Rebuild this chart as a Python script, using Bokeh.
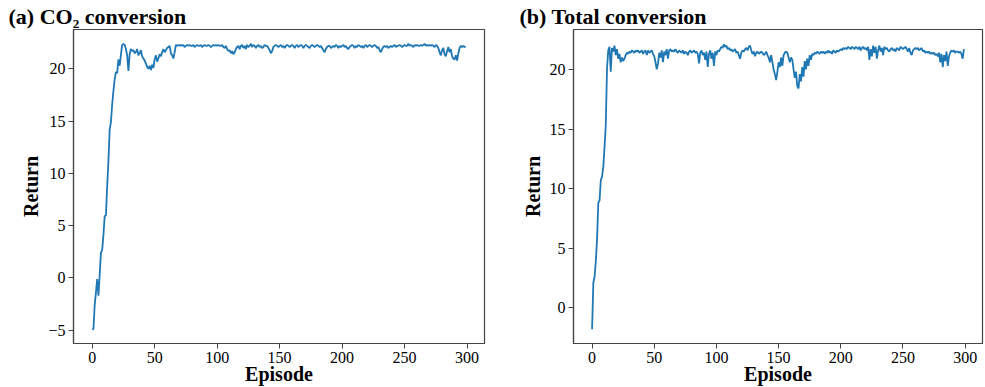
from bokeh.plotting import figure
from bokeh.layouts import row
from bokeh.models import Range1d, FixedTicker
from bokeh.embed import file_html
from bokeh.resources import INLINE

episodes = list(range(300))

co2_return = [
    -4.9, -4.9, -2.6, -1.4, -0.1, -1.7, 0.3, 2.4, 2.7, 4.1,
    5.9, 6.0, 8.8, 11.2, 14.2, 14.9, 16.6, 17.9, 19.0, 19.7,
    19.6, 20.9, 20.3, 21.4, 22.3, 22.4, 22.3, 21.9, 21.3, 19.8,
    21.4, 21.9, 21.7, 21.8, 21.5, 21.6, 21.9, 21.3, 21.5, 21.8,
    21.2, 21.0, 20.8, 20.5, 20.2, 20.0, 20.3, 19.9, 20.4, 20.1,
    20.9, 21.3, 20.7, 21.0, 21.4, 21.2, 21.6, 21.9, 21.6, 21.8,
    22.0, 22.1, 22.2, 21.5, 21.3, 21.0, 21.6, 22.3, 22.2, 22.3,
    22.2, 22.3, 22.2, 22.3, 22.1, 22.2, 22.3, 22.2, 22.3, 22.2,
    22.2, 22.3, 22.1, 22.2, 22.3, 22.2, 22.2, 22.3, 22.1, 22.2,
    22.3, 22.2, 22.2, 22.3, 22.2, 22.1, 22.2, 22.3, 22.2, 22.3,
    22.2, 22.3, 22.2, 22.2, 22.3, 22.1, 22.0, 22.2, 21.9, 21.7,
    21.8, 21.5, 21.7, 21.4, 21.6, 21.9, 22.1, 22.2, 21.9, 22.2,
    22.3, 22.0, 22.2, 21.9, 22.3, 22.1, 22.2, 22.4, 22.1, 22.3,
    22.2, 22.0, 22.2, 22.3, 22.1, 22.2, 22.0, 22.1, 22.3, 22.2,
    22.2, 22.0, 21.8, 21.5, 21.7, 22.1, 22.2, 22.3, 22.2, 22.1,
    22.2, 22.3, 22.1, 22.2, 22.0, 22.2, 22.3, 22.2, 22.1, 22.2,
    22.3, 22.2, 22.0, 22.2, 22.3, 22.1, 22.2, 22.3, 22.2, 22.0,
    22.2, 22.3, 22.2, 22.1, 22.0, 22.2, 22.3, 22.2, 22.1, 22.2,
    22.3, 22.2, 22.1, 22.2, 22.0, 21.8, 21.6, 21.9, 22.1, 22.2,
    22.2, 22.0, 22.1, 22.2, 22.1, 22.3, 22.2, 22.0, 22.2, 22.1,
    22.2, 22.3, 22.1, 22.2, 22.0, 21.9, 22.1, 22.2, 22.3, 22.2,
    22.0, 22.2, 22.1, 22.3, 22.2, 22.1, 22.2, 22.0, 22.2, 22.3,
    22.1, 22.2, 22.3, 22.2, 22.1, 22.2, 22.3, 22.2, 22.0, 22.1,
    21.8, 21.6, 21.9, 22.1, 22.2, 22.1, 22.2, 22.0, 22.1, 22.2,
    22.1, 22.2, 22.3, 22.1, 22.2, 22.2, 22.3, 22.2, 22.1, 22.2,
    22.3, 22.2, 22.2, 22.4, 22.2, 22.3, 22.2, 22.1, 22.3, 22.2,
    22.3, 22.2, 22.2, 22.3, 22.2, 22.3, 22.4, 22.2, 22.3, 22.2,
    22.3, 22.2, 22.3, 22.2, 22.1, 22.3, 22.2, 22.0, 21.6, 21.3,
    21.8, 22.0, 21.4, 21.2, 21.7, 22.1, 21.6, 21.9, 21.2, 21.0,
    20.9, 21.3, 20.8, 21.5, 22.0, 22.2, 22.1, 22.2, 22.1, 22.1,
]

total_return = [
    -1.8, 2.1, 2.6, 3.9, 5.8, 8.8, 9.0, 10.7, 11.0, 11.8,
    13.5, 15.3, 20.1, 21.6, 21.9, 19.8, 21.8, 21.5, 22.0, 21.2,
    21.7, 20.9, 21.3, 20.6, 21.0, 20.7, 20.9, 21.2, 21.4, 21.3,
    21.5, 21.4, 21.6, 21.5, 21.4, 21.6, 21.5, 21.6, 21.4, 21.5,
    21.6, 21.3, 21.5, 21.6, 21.2, 21.6, 21.4, 21.5, 21.6, 21.3,
    21.1, 20.6, 20.0, 20.5, 21.4, 21.0, 21.6, 20.6, 21.5, 21.2,
    21.7, 20.9, 21.6, 21.7, 21.5, 21.6, 21.5, 21.7, 21.5, 21.4,
    21.6, 21.5, 21.4, 21.6, 21.3, 21.5, 21.4, 21.2, 21.5, 21.6,
    21.4, 21.5, 21.6, 21.4, 21.5, 21.3, 20.5, 21.4, 21.6, 21.2,
    21.4, 20.8, 21.5, 20.2, 21.3, 21.6, 20.9, 21.4, 20.3, 21.5,
    21.2, 21.6, 21.5, 21.7, 21.9, 21.8, 22.1, 21.9, 22.0, 21.7,
    21.8, 21.6, 21.7, 21.5, 21.6, 21.7, 21.4, 21.5, 21.2, 20.9,
    21.4, 21.6, 21.5, 21.7, 21.8, 21.6, 21.9, 22.0, 21.6, 21.3,
    21.5, 21.1, 21.4, 21.5, 21.3, 21.4, 21.5, 21.4, 21.2, 21.3,
    21.5, 21.2, 21.0, 20.6, 21.2, 20.6, 20.0, 19.6, 19.1, 19.8,
    20.6, 20.2, 21.0, 20.3, 21.2, 21.4, 21.5, 21.4, 21.0, 20.6,
    21.0, 20.8, 20.0, 19.3, 19.8, 18.6, 18.4, 19.6, 19.0, 20.2,
    19.4, 20.7, 20.0, 20.9, 20.3, 21.2, 20.8, 21.3, 21.2, 21.4,
    21.3, 21.5, 21.4, 21.3, 21.5, 21.4, 21.5, 21.3, 21.5, 21.4,
    21.6, 21.4, 21.5, 21.3, 21.6, 21.5, 21.4, 21.6, 21.5, 21.6,
    21.7, 21.6, 21.8, 21.7, 21.8, 21.7, 21.9, 21.8, 21.7, 21.9,
    21.8, 21.7, 21.9, 21.8, 21.7, 21.9, 21.6, 21.8, 21.9, 21.7,
    21.8, 21.6, 21.9, 20.8, 21.7, 21.1, 22.0, 21.4, 21.9, 20.9,
    21.6, 22.0, 21.5, 21.8, 21.2, 21.9, 21.7, 21.8, 21.6, 21.5,
    21.7, 21.8, 21.6, 21.7, 21.5, 21.8, 21.7, 21.6, 21.9, 21.8,
    21.7, 21.8, 21.9, 21.7, 21.5, 21.8, 21.4, 21.2, 21.6, 21.7,
    21.8, 21.7, 21.8, 21.6, 21.7, 21.8, 21.5, 21.6, 21.4, 21.5,
    21.4, 21.5, 21.3, 21.4, 21.3, 21.4, 21.2, 21.3, 21.1, 21.4,
    20.6, 21.3, 20.2, 21.2, 20.7, 21.5, 20.3, 21.1, 21.4, 21.6,
    21.5, 21.6, 21.4, 21.5, 21.5, 21.4, 21.5, 21.3, 20.9, 21.7,
]

x_ticks = [0, 50, 100, 150, 200, 250, 300]
y_ticks_a = [-5, 0, 5, 10, 15, 20]
y_ticks_b = [0, 5, 10, 15, 20]

SERIF = "Liberation Serif"
LINE = "#1f77b4"
FRAME = "#444444"


def make(title, ys, yticks, ymin, ymax, width, border_left, border_right, title_offset):
    p = figure(width=width, height=387, output_backend="svg", toolbar_location=None,
               x_range=Range1d(-14.95, 313.95), y_range=Range1d(ymin, ymax),
               min_border_left=border_left, min_border_right=border_right,
               min_border_top=9, min_border_bottom=0)
    p.title.text = title
    p.title.text_font = SERIF
    p.title.text_font_size = "22px"
    p.title.text_font_style = "bold"
    p.title.text_color = "black"
    p.title.align = "left"
    p.title.offset = title_offset
    p.title.standoff = 2
    p.line(episodes, ys, line_color=LINE, line_width=1.8)
    p.grid.visible = False
    p.outline_line_color = FRAME
    p.outline_line_width = 1.2
    p.background_fill_color = "white"
    p.border_fill_color = "white"
    for ax in (p.xaxis[0], p.yaxis[0]):
        ax.axis_line_color = FRAME
        ax.axis_line_width = 1.2
        ax.major_tick_line_color = FRAME
        ax.major_tick_out = 5
        ax.major_tick_in = 0
        ax.minor_tick_line_color = None
        ax.major_label_text_font = SERIF
        ax.major_label_text_font_size = "16px"
        ax.major_label_text_color = "black"
        ax.axis_label_text_font = SERIF
        ax.axis_label_text_font_size = "20px"
        ax.axis_label_text_font_style = "bold"
        ax.axis_label_text_color = "black"
    p.xaxis.ticker = FixedTicker(ticks=x_ticks)
    p.yaxis.ticker = FixedTicker(ticks=yticks)
    p.xaxis.axis_label = "Episode"
    p.yaxis.axis_label = "Return"
    p.xaxis.major_label_standoff = 3
    p.xaxis.axis_label_standoff = -3
    p.yaxis.major_label_standoff = 3
    p.yaxis.axis_label_standoff = 3
    return p


p1 = make("(a) CO₂ conversion", co2_return, y_ticks_a, -6.27, 23.77, 508, 73, 24, -65)
p2 = make("(b) Total conversion", total_return, y_ticks_b, -3.0, 23.35, 477, 65, 3, -54)

layout = row(p1, p2)
open("out.html", "w").write(file_html(layout, INLINE))
